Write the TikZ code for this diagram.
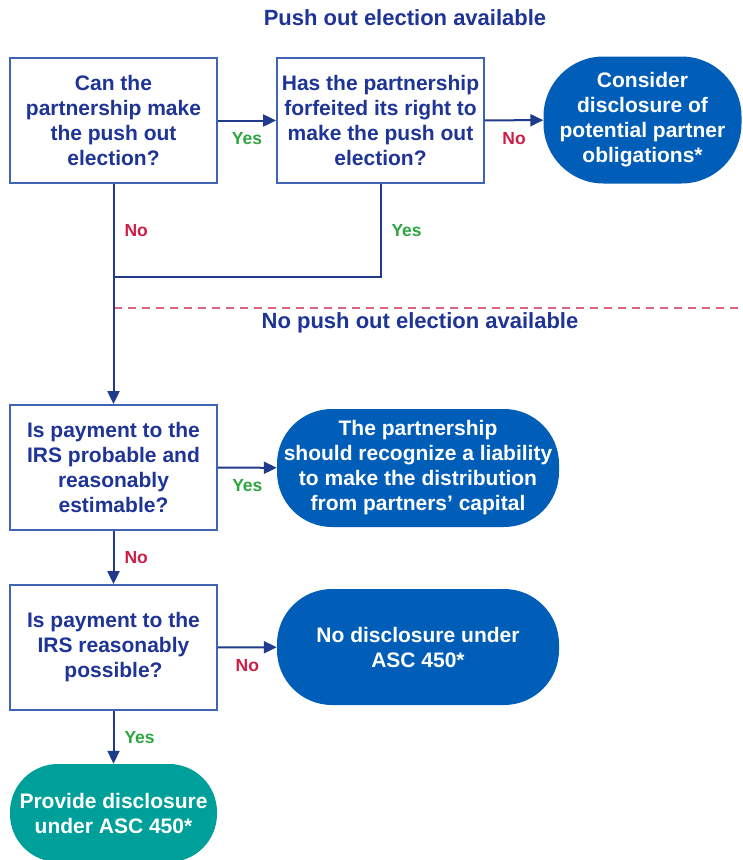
\documentclass[tikz,border=0pt]{standalone}
\usepackage{fontspec}
\setmainfont{Liberation Sans}
\usetikzlibrary{arrows.meta}

\definecolor{boxblue}{RGB}{63,100,180}
\definecolor{textnavy}{RGB}{30,52,150}
\definecolor{linknavy}{RGB}{32,58,140}
\definecolor{ovalblue}{RGB}{0,94,184}
\definecolor{tealfill}{RGB}{0,160,154}
\definecolor{yesgreen}{RGB}{45,165,65}
\definecolor{nored}{RGB}{205,30,70}
\definecolor{dashpink}{RGB}{222,100,130}

\tikzset{
	question/.style={draw=boxblue, line width=1.8pt, fill=white, minimum width=207pt, minimum height=125pt,
		inner sep=0pt, align=center, text=textnavy, font=\bfseries\fontsize{21}{25}\selectfont},
	outcome/.style={fill=ovalblue, rounded corners=55pt, inner sep=0pt, align=center, text=white,
		font=\bfseries\fontsize{21}{25}\selectfont},
	heading/.style={text=textnavy, font=\bfseries\fontsize{22}{26}\selectfont},
	link/.style={draw=linknavy, line width=2pt},
	arr/.style={link, -{Triangle[length=13pt,width=12pt]}},
	yes/.style={text=yesgreen, inner sep=0pt, font=\bfseries\fontsize{17.5}{20}\selectfont},
	no/.style={yes, text=nored},
	tagbelow/.style={midway, anchor=north, yshift=-11pt},
	tagright/.style={anchor=west, xshift=10pt}
}

\begin{document}
\begin{tikzpicture}[x=1pt, y=-1pt]
	\useasboundingbox[fill=white] (0,0) rectangle (743,860);

	% headings
	\node[heading] (top) at (405,18) {Push out election available};
	\node[heading] (bottom) at (420,323) {No push out election available};

	% questions
	\node[question] (q1) at (113.5,120.5) {Can the\\partnership make\\the push out\\election?};
	\node[question] (q2) at (380.5,120.5) {Has the partnership\\forfeited its right to\\make the push out\\election?};
	\node[question] (q3) at (113.5,467.5) {Is payment to the\\IRS probable and\\reasonably\\estimable?};
	\node[question] (q4) at (113.5,647.5) {Is payment to the\\IRS reasonably\\possible?};

	% outcomes
	\node[outcome, minimum width=198pt, minimum height=127pt, rounded corners=60pt] (r1) at (642.5,120) {Consider\\disclosure of\\potential partner\\obligations*};
	\node[outcome, minimum width=282pt, minimum height=118pt] (r2) at (418,468) {The partnership\\should recognize a liability\\to make the distribution\\from partners’ capital};
	\node[outcome, minimum width=282pt, minimum height=116pt] (r3) at (418,647) {No disclosure under\\ASC 450*};
	\node[outcome, fill=tealfill, minimum width=207pt, minimum height=98pt, rounded corners=48pt] (r4) at (113.5,813) {Provide disclosure\\under ASC 450*};

	% connectors
	\coordinate (merge) at (113.5,277);
	\coordinate (dashL) at (113.5,308);
	\coordinate (dashR) at (743,308);
	\draw[dashpink, line width=2pt, dash pattern=on 8pt off 6pt] (dashL) -- (dashR);

	\draw[arr] (q1) -- node[tagbelow, yes] {Yes} (q2);
	\draw[arr] (q2) -- node[tagbelow, no] {No} (r1);
	\draw[link] (q2.south) |- node[pos=.25, tagright, yes] {Yes} (merge);
	\draw[arr] (q1) -- node[pos=.21, tagright, no] {No} (q3);
	\draw[arr] (q3) -- node[tagbelow, yes] {Yes} (r2);
	\draw[arr] (q3) -- node[midway, tagright, no] {No} (q4);
	\draw[arr] (q4) -- node[tagbelow, no] {No} (r3);
	\draw[arr] (q4) -- node[midway, tagright, yes] {Yes} (r4);
\end{tikzpicture}
\end{document}
